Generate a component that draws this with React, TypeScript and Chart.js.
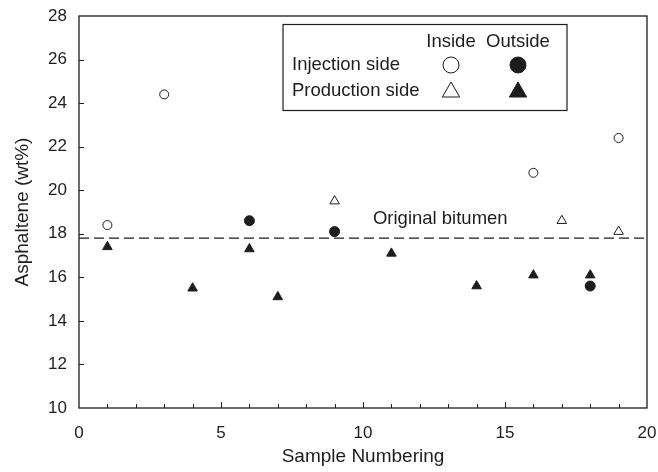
import React, { useEffect, useRef } from 'react';
import { Chart, registerables } from 'chart.js';

Chart.register(...registerables);

// ---- data ----
const injectionInsideX = [1, 3, 16, 19];
const injectionInsideY = [18.4, 24.4, 20.8, 22.4];
const injectionOutsideX = [6, 9, 18];
const injectionOutsideY = [18.6, 18.1, 15.6];
const productionInsideX = [9, 17, 19];
const productionInsideY = [19.5, 18.6, 18.1];
const productionOutsideX = [1, 4, 6, 7, 11, 14, 16, 18];
const productionOutsideY = [17.4, 15.5, 17.3, 15.1, 17.1, 15.6, 16.1, 16.1];
const originalBitumenValue = 17.8;
const originalBitumenLabel = 'Original bitumen';
const xRange = [0, 20];
const yRange = [10, 28];
const xTitle = 'Sample Numbering';
const yTitle = 'Asphaltene (wt%)';
const legendColumns = ['Inside', 'Outside'];
const legendRows = ['Injection side', 'Production side'];

const INK = '#1e1c1c';
const FONT = '"Liberation Sans", Arial, Helvetica, sans-serif';

const zip = (xs: number[], ys: number[]) => xs.map((x, i) => ({ x, y: ys[i] }));

function drawMarker(ctx: CanvasRenderingContext2D, kind: string, filled: boolean, x: number, y: number, r: number) {
  ctx.save();
  ctx.beginPath();
  if (kind === 'circle') {
    ctx.arc(x, y, r, 0, Math.PI * 2);
  } else {
    for (let k = 0; k < 3; k++) {
      const a = (k * 2 * Math.PI) / 3;
      const px = x + Math.sin(a) * r;
      const py = y - Math.cos(a) * r + r * 0.15;
      if (k === 0) ctx.moveTo(px, py);
      else ctx.lineTo(px, py);
    }
    ctx.closePath();
  }
  ctx.fillStyle = filled ? INK : '#ffffff';
  ctx.fill();
  ctx.lineWidth = 1;
  ctx.strokeStyle = INK;
  ctx.stroke();
  ctx.restore();
}

const framePlugin = {
  id: 'frame',
  afterDatasetsDraw(chart: any) {
    const { ctx, chartArea: ca, scales } = chart;
    const xs = scales.x;
    const ys = scales.y;
    ctx.save();
    ctx.strokeStyle = INK;
    ctx.lineWidth = 1.3;
    ctx.strokeRect(ca.left, ca.top, ca.right - ca.left, ca.bottom - ca.top);
    ctx.lineWidth = 1;
    ctx.beginPath();
    for (let v = xRange[0] + 1; v < xRange[1]; v++) {
      const px = Math.round(xs.getPixelForValue(v)) + 0.5;
      const len = v % 5 === 0 ? 6 : 4;
      ctx.moveTo(px, ca.bottom);
      ctx.lineTo(px, ca.bottom - len);
    }
    for (let v = yRange[0] + 2; v < yRange[1]; v += 2) {
      const py = Math.round(ys.getPixelForValue(v)) + 0.5;
      ctx.moveTo(ca.left, py);
      ctx.lineTo(ca.left + 5, py);
    }
    ctx.stroke();

    // annotation label
    ctx.fillStyle = INK;
    ctx.font = `18.5px ${FONT}`;
    ctx.textAlign = 'left';
    ctx.textBaseline = 'middle';
    ctx.fillText(originalBitumenLabel, xs.getPixelForValue(10.35), ys.getPixelForValue(18.68));
    ctx.restore();
  },
  afterDraw(chart: any) {
    const { ctx, chartArea: ca } = chart;
    const bx = ca.left + 204;
    const by = ca.top + 8.5;
    const bw = 284;
    const bh = 86;
    ctx.save();
    ctx.fillStyle = '#ffffff';
    ctx.fillRect(bx, by, bw, bh);
    ctx.strokeStyle = INK;
    ctx.lineWidth = 1.2;
    ctx.strokeRect(bx, by, bw, bh);

    ctx.fillStyle = INK;
    ctx.font = `18.5px ${FONT}`;
    ctx.textBaseline = 'middle';
    const colX = [bx + 168, bx + 235];
    const headY = by + 17;
    const rowY = [by + 40.5, by + 66];
    ctx.textAlign = 'center';
    legendColumns.forEach((t, i) => ctx.fillText(t, colX[i], headY));
    ctx.textAlign = 'left';
    legendRows.forEach((t, i) => ctx.fillText(t, bx + 9, rowY[i]));

    drawMarker(ctx, 'circle', false, colX[0], rowY[0], 8);
    drawMarker(ctx, 'circle', true, colX[1], rowY[0], 8);
    drawMarker(ctx, 'triangle', false, colX[0], rowY[1], 10);
    drawMarker(ctx, 'triangle', true, colX[1], rowY[1], 10);
    ctx.restore();
  },
};

export default function App() {
  const ref = useRef<HTMLCanvasElement | null>(null);

  useEffect(() => {
    if (!ref.current) return;
    const chart = new Chart(ref.current, {
      type: 'scatter',
      data: {
        datasets: [
          {
            type: 'line',
            label: originalBitumenLabel,
            data: [
              { x: xRange[0], y: originalBitumenValue },
              { x: xRange[1], y: originalBitumenValue },
            ],
            borderColor: INK,
            borderWidth: 1.3,
            borderDash: [10, 5],
            pointRadius: 0,
            fill: false,
            order: 5,
          } as any,
          {
            label: 'Injection side – Inside',
            data: zip(injectionInsideX, injectionInsideY),
            pointStyle: 'circle',
            pointRadius: 4.5,
            backgroundColor: '#ffffff',
            borderColor: INK,
            borderWidth: 1,
          },
          {
            label: 'Injection side – Outside',
            data: zip(injectionOutsideX, injectionOutsideY),
            pointStyle: 'circle',
            pointRadius: 5,
            backgroundColor: INK,
            borderColor: INK,
            borderWidth: 1,
          },
          {
            label: 'Production side – Inside',
            data: zip(productionInsideX, productionInsideY),
            pointStyle: 'triangle',
            pointRadius: 5.5,
            backgroundColor: '#ffffff',
            borderColor: INK,
            borderWidth: 1,
          },
          {
            label: 'Production side – Outside',
            data: zip(productionOutsideX, productionOutsideY),
            pointStyle: 'triangle',
            pointRadius: 5.5,
            backgroundColor: INK,
            borderColor: INK,
            borderWidth: 1,
          },
        ],
      },
      options: {
        responsive: false,
        animation: false,
        events: [],
        layout: { padding: { left: 0, top: 16, right: 11, bottom: 0 } },
        plugins: {
          legend: { display: false },
          tooltip: { enabled: false },
        },
        scales: {
          x: {
            type: 'linear',
            min: xRange[0],
            max: xRange[1],
            grid: { display: false, drawTicks: true, tickLength: 15 },
            border: { display: false },
            ticks: {
              stepSize: 5,
              padding: 0,
              color: INK,
              font: { family: FONT, size: 17 },
              maxRotation: 0,
            },
            title: {
              display: true,
              text: xTitle,
              color: INK,
              font: { family: FONT, size: 19 },
              padding: { top: 0, bottom: 4 },
            },
            afterFit: (s: any) => {
              s.height = 64;
            },
          },
          y: {
            type: 'linear',
            min: yRange[0],
            max: yRange[1],
            grid: { display: false, drawTicks: true, tickLength: 12 },
            border: { display: false },
            ticks: {
              stepSize: 2,
              padding: 0,
              color: INK,
              font: { family: FONT, size: 17 },
            },
            title: {
              display: true,
              text: yTitle,
              color: INK,
              font: { family: FONT, size: 19 },
              padding: { top: 11, bottom: 0 },
            },
            afterFit: (s: any) => {
              s.width = 79;
            },
          },
        },
      },
      plugins: [framePlugin],
    });
    return () => chart.destroy();
  }, []);

  return (
    <div style={{ position: 'fixed', left: 0, top: 0, width: 658, height: 472, background: '#fff' }}>
      <canvas ref={ref} width={658} height={472} />
    </div>
  );
}
